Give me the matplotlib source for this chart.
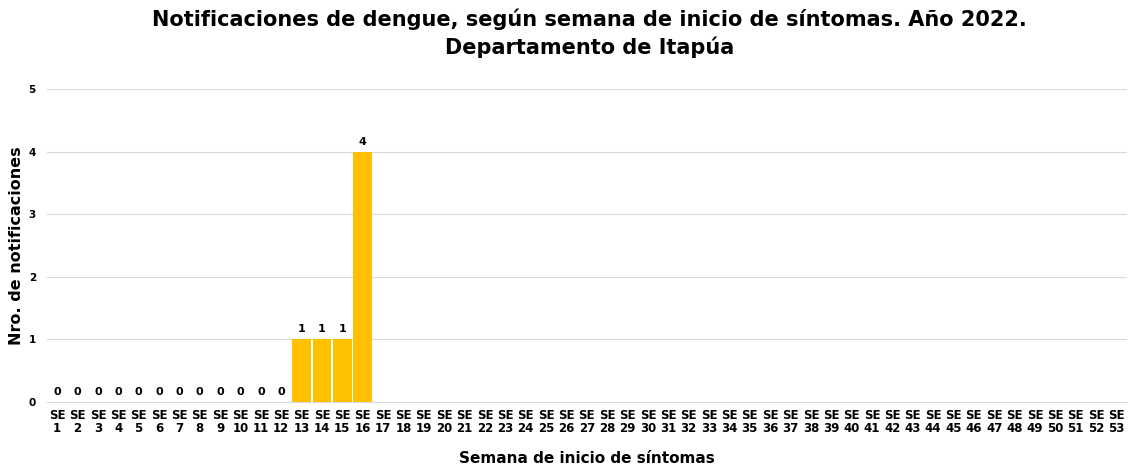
import numpy as np
import matplotlib.pyplot as plt

weeks = ["SE\n%d" % i for i in range(1, 54)]
values = [0, 0, 0, 0, 0, 0, 0, 0, 0, 0, 0, 0, 1, 1, 1, 4] + [np.nan] * 37

plt.rcParams['font.family'] = ['DejaVu Sans']
fig = plt.figure(figsize=(11.3, 4.69), dpi=100)
ax = fig.add_axes([0.0416, 0.1429, 0.9554, 0.6674])

x = np.arange(len(weeks))
vals = np.array(values, dtype=float)
ax.bar(x, np.nan_to_num(vals), width=0.93, color='#FFC000', zorder=3)
for xi, v in zip(x, vals):
    if not np.isnan(v):
        ax.text(xi, v + 0.08, "%d" % v, ha='center', va='bottom', fontsize=8, fontweight='bold')

ax.set_xlim(-0.5, len(weeks) - 0.5)
ax.set_ylim(0, 5)
ax.set_yticks(range(6))
ax.set_xticks(x)
ax.set_xticklabels(weeks, fontsize=8.5, fontweight='bold', linespacing=1.05)
for lab in ax.get_yticklabels():
    lab.set_fontsize(7.5)
    lab.set_fontweight('bold')
ax.tick_params(axis='y', length=0, pad=8)
ax.tick_params(axis='x', length=0, pad=5)
ax.grid(axis='y', color='#d9d9d9', linewidth=0.8, zorder=0)
for s in ['top', 'right', 'left']:
    ax.spines[s].set_visible(False)
ax.spines['bottom'].set_color('#d9d9d9')

ax.set_ylabel("Nro. de notificaciones", fontsize=11.5, fontweight='bold', labelpad=3)
ax.set_xlabel("Semana de inicio de síntomas", fontsize=11, fontweight='bold', labelpad=11)
fig.suptitle("Notificaciones de dengue, según semana de inicio de síntomas. Año 2022.\nDepartamento de Itapúa",
             x=0.522, y=0.982, fontsize=15, fontweight='bold', linespacing=1.4)

fig.savefig("out.png", dpi=100)
